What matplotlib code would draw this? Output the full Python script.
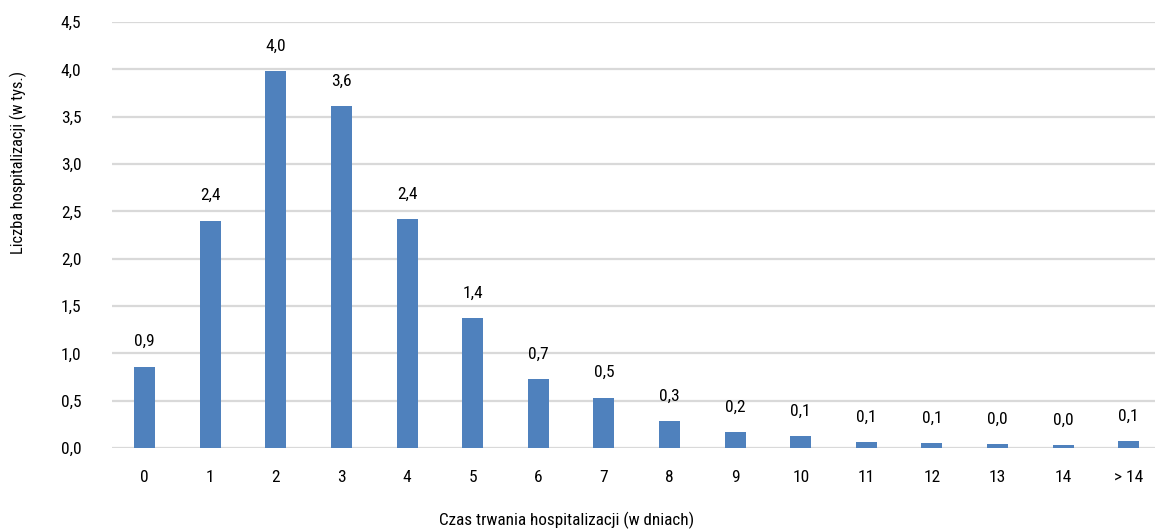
import matplotlib.pyplot as plt
from matplotlib import font_manager

# dane: liczba hospitalizacji (w tys.) wg czasu trwania
categories = ["0", "1", "2", "3", "4", "5", "6", "7", "8", "9", "10", "11", "12", "13", "14", "> 14"]
values = [0.86, 2.40, 3.98, 3.61, 2.42, 1.37, 0.73, 0.53, 0.28, 0.17, 0.124, 0.063, 0.052, 0.042, 0.028, 0.074]
y_ticks = [0.0, 0.5, 1.0, 1.5, 2.0, 2.5, 3.0, 3.5, 4.0, 4.5]

names = {f.name for f in font_manager.fontManager.ttflist}
fam = [f for f in ["Liberation Sans Narrow", "Roboto Condensed", "Liberation Sans"] if f in names]
plt.rcParams['font.family'] = fam + ['DejaVu Sans']

fig = plt.figure(figsize=(11.55, 5.29), dpi=100)
ax = fig.add_axes([112 / 1155, 81 / 529, 1 - 112 / 1155, (448 - 22) / 529])

x = list(range(len(categories)))
bars = ax.bar(x, values, width=0.32, color="#4F81BD", zorder=3)

for xi, v in zip(x, values):
    ax.annotate(f"{v:.1f}".replace(".", ","), (xi, v), xytext=(0, 25),
                textcoords="offset pixels", ha="center", va="center", fontsize=12.5)

ax.set_xlim(-0.5, 15.4)
ax.set_ylim(0, 4.5)
ax.set_yticks(y_ticks)
ax.set_yticklabels([f"{t:.1f}".replace(".", ",") for t in y_ticks], fontsize=12.5)
ax.set_xticks(x)
ax.set_xticklabels(categories, fontsize=12.5)
ax.tick_params(length=0)
ax.tick_params(axis="x", pad=16)
ax.tick_params(axis="y", pad=22)
ax.grid(axis="y", color="#D9D9D9", linewidth=1.6, zorder=0)
for s in ax.spines.values():
    s.set_visible(False)

fig.text(567 / 1155, 1 - 520 / 529, "Czas trwania hospitalizacji (w dniach)", ha="center", va="center", fontsize=12.3)
fig.text(18 / 1155, 1 - 162 / 529, "Liczba hospitalizacji (w tys.)", ha="center", va="center", rotation=90, fontsize=11.8)

fig.savefig("out.png", dpi=100)
